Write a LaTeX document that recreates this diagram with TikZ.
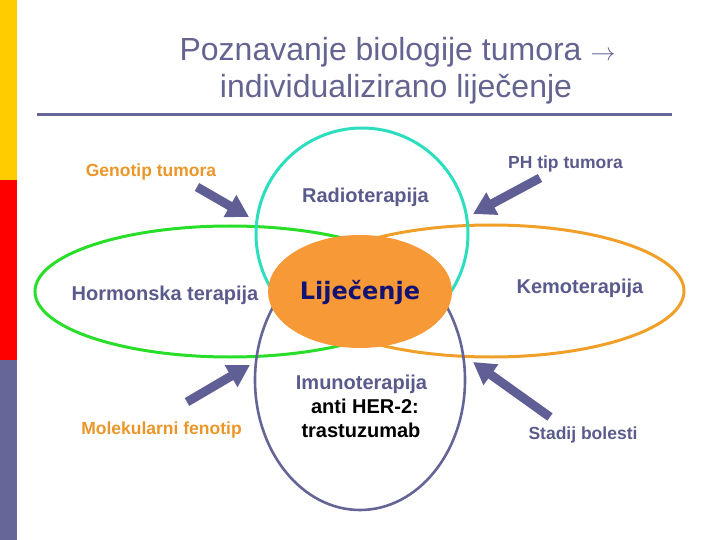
\documentclass[tikz,border=0pt]{standalone}
\usepackage{fontspec}
\setmainfont{Liberation Sans}
\newfontfamily\dejavu{DejaVu Sans}
\usetikzlibrary{shapes.geometric,arrows.meta}
\definecolor{barY}{RGB}{255,204,0}
\definecolor{barR}{RGB}{255,0,0}
\definecolor{barS}{RGB}{102,102,153}
\definecolor{titlec}{RGB}{100,100,145}
\definecolor{grn}{RGB}{40,222,40}
\definecolor{cyn}{RGB}{45,222,190}
\definecolor{orl}{RGB}{240,160,40}
\definecolor{orf}{RGB}{248,153,56}
\definecolor{sle}{RGB}{100,100,150}
\definecolor{arr}{RGB}{95,95,150}
\definecolor{slt}{RGB}{90,90,140}
\definecolor{ort}{RGB}{235,150,40}
\definecolor{navy}{RGB}{18,18,115}
\tikzset{
  ring/.style={ellipse, draw, line width=3pt, inner sep=0pt, outer sep=0pt},
  lbl/.style={inner sep=0pt, anchor=base, font=\bfseries\fontsize{17.5}{21}\selectfont},
  mid/.style={inner sep=0pt, anchor=base, font=\bfseries\fontsize{20}{24}\selectfont},
  blockarrow/.style={draw=arr, line width=9pt, -{Triangle[width=24pt,length=22pt]}, arr}
}
\begin{document}
\begin{tikzpicture}[x=1pt,y=-1pt]
\useasboundingbox (0,0) rectangle (720,540);
% left bar
\fill[barY] (0,0) rectangle (17,180);
\fill[barR] (0,180) rectangle (17,360);
\fill[barS] (0,360) rectangle (17,540);
% title
\node[inner sep=0pt, anchor=base, text=titlec, font=\fontsize{32}{38}\selectfont] (t1) at (397.5,60.5) {Poznavanje biologije tumora \ensuremath{\rightarrow}};
\node[inner sep=0pt, anchor=base, text=titlec, font=\fontsize{32}{38}\selectfont] (t2) at (396,97.5) {individualizirano liječenje};
\draw[barS, line width=3pt] (37,114.5) -- (672,114.5);
% rings
\node[ring, draw=grn, minimum width=390pt, minimum height=131pt] (green) at (230,291.5) {};
\node[ring, draw=orl, minimum width=386pt, minimum height=132pt] (orange) at (491,291) {};
\node[ring, draw=cyn, minimum width=212pt, minimum height=212pt] (cyan) at (362,234) {};
\node[ring, draw=sle, line width=2.6pt, minimum width=210pt, minimum height=260pt] (slate) at (360,380) {};
\node[ellipse, fill=orf, inner sep=0pt, minimum width=184pt, minimum height=113pt] (core) at (360,291.5) {};
% texts
\node[inner sep=0pt, anchor=base, text=navy, font=\dejavu\bfseries\fontsize{24}{28}\selectfont] (lij) at (360,299) {Liječenje};
\node[mid, text=slt] (radio) at (365.5,202.7) {Radioterapija};
\node[mid, text=slt] (horm) at (165,300.5) {Hormonska terapija};
\node[mid, text=slt] (kemo) at (580,293) {Kemoterapija};
\node[mid, text=slt] (imuno) at (361.5,389) {Imunoterapija};
\node[mid, text=black] (anti) at (365,413) {anti HER-2:};
\node[mid, text=black] (tras) at (361,437) {trastuzumab};
\node[lbl, text=ort] (geno) at (151,176.7) {Genotip tumora};
\node[lbl, text=slt] (ph) at (565.5,168.3) {PH tip tumora};
\node[lbl, text=ort] (mole) at (161.5,434) {Molekularni fenotip};
\node[lbl, text=slt] (stad) at (583,439) {Stadij bolesti};
% arrows
\coordinate (a1s) at (197,187);
\coordinate (a1e) at (249,217);
\coordinate (a2s) at (540,178);
\coordinate (a2e) at (473,214);
\coordinate (a3s) at (187,402);
\coordinate (a3e) at (250,365);
\coordinate (a4s) at (550,417);
\coordinate (a4e) at (473,362);
\draw[blockarrow] (a1s) -- (a1e);
\draw[blockarrow] (a2s) -- (a2e);
\draw[blockarrow] (a3s) -- (a3e);
\draw[blockarrow] (a4s) -- (a4e);
\end{tikzpicture}
\end{document}
